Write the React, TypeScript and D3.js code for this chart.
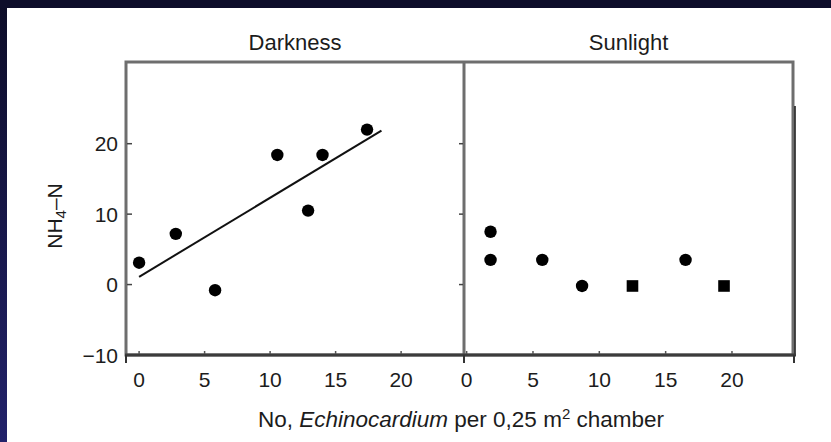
import React from "react";
import * as d3 from "d3";

// ---- data ----
const panelTitles = ["Darkness", "Sunlight"];
const xTicks = [0, 5, 10, 15, 20];
const yTicks = [20, 10, 0, -10];

const darkX = [0, 2.8, 5.8, 10.55, 12.9, 14.0, 17.4];
const darkY = [3.1, 7.2, -0.8, 18.4, 10.5, 18.4, 22.0];

const fitX = [0, 18.5];
const fitY = [1.1, 21.85];

const sunCircleX = [1.8, 1.8, 5.7, 8.7, 16.5];
const sunCircleY = [7.5, 3.5, 3.5, -0.2, 3.5];
const sunSquareX = [12.5, 19.4];
const sunSquareY = [-0.2, -0.2];

const W = 831;
const H = 442;
const FONT = "'Liberation Sans', Arial, Helvetica, sans-serif";

export default function App() {
  const top = 62;
  const bottom = 355;
  const left = 126;
  const mid = 464;
  const right = 793;

  const y = d3.scaleLinear().domain([-10, 31.6]).range([bottom, top]);
  const xL = d3.scaleLinear().domain([-1.0, 24.8]).range([left, mid]);
  const xR = d3.scaleLinear().domain([-0.2, 24.6]).range([mid, right]);

  const fitLine = d3
    .line<number>()
    .x((_, i) => xL(fitX[i]))
    .y((d) => y(d));

  const frame = "#6e6e6e";
  const textCol = "#1c1c1c";

  return (
    <svg
      width={W}
      height={H}
      style={{ position: "absolute", left: 0, top: 0, display: "block" }}
    >
      <defs>
        <linearGradient id="bg" x1="0" y1="0" x2="0" y2="1">
          <stop offset="0" stopColor="#0c0c27" />
          <stop offset="1" stopColor="#22226a" />
        </linearGradient>
      </defs>
      <rect x={0} y={0} width={W} height={H} fill="url(#bg)" />
      <rect x={0} y={0} width={W} height={8} fill="#0d0d2a" />
      <rect x={7} y={8} width={W - 7} height={H - 8} fill="#ffffff" />

      {/* titles */}
      {panelTitles.map((t, i) => (
        <text
          key={t}
          x={i === 0 ? (left + mid) / 2 : (mid + right) / 2}
          y={50}
          textAnchor="middle"
          fontFamily={FONT}
          fontSize={22}
          fill={textCol}
        >
          {t}
        </text>
      ))}

      {/* frame */}
      <rect
        x={left}
        y={top}
        width={right - left}
        height={bottom - top}
        fill="none"
        stroke={frame}
        strokeWidth={3}
      />
      <line x1={mid} x2={mid} y1={top} y2={bottom} stroke={frame} strokeWidth={3} />
      <line x1={right + 2} x2={right + 2} y1={106} y2={bottom} stroke="#111" strokeWidth={1.5} />
      <line x1={left - 1} x2={right + 3} y1={bottom} y2={bottom} stroke="#3c3c3c" strokeWidth={3} />

      {/* outward ticks at panel edges */}
      {[left, mid, right + 1].map((px, i) => (
        <line key={i} x1={px} x2={px} y1={bottom} y2={bottom + 8} stroke="#333" strokeWidth={2} />
      ))}

      {/* y ticks & labels */}
      {yTicks.map((v) => (
        <g key={v}>
          {v > -10 && (
            <>
              <line x1={left + 1} x2={left + 6} y1={y(v)} y2={y(v)} stroke="#444" strokeWidth={1.5} />
              <line x1={mid - 5} x2={mid - 1} y1={y(v)} y2={y(v)} stroke="#444" strokeWidth={1.5} />
            </>
          )}
          <text
            x={118}
            y={y(v)}
            dy="0.36em"
            textAnchor="end"
            fontFamily={FONT}
            fontSize={21}
            fill={textCol}
          >
            {v < 0 ? "\u2212" + Math.abs(v) : v}
          </text>
        </g>
      ))}

      {/* x ticks & labels for both panels */}
      {[xL, xR].map((sx, p) =>
        xTicks.map((v) => (
          <g key={p + "-" + v}>
            <line x1={sx(v)} x2={sx(v)} y1={bottom - 4} y2={bottom - 1} stroke="#555" strokeWidth={1.5} />
            <text
              x={sx(v)}
              y={387}
              textAnchor="middle"
              fontFamily={FONT}
              fontSize={21}
              fill={textCol}
            >
              {v}
            </text>
          </g>
        ))
      )}

      {/* axis titles */}
      <text
        transform="translate(62,216) rotate(-90)"
        textAnchor="middle"
        fontFamily={FONT}
        fontSize={21}
        fill={textCol}
      >
        NH
        <tspan dy={4} fontSize={15}>4</tspan>
        <tspan dy={-4}>{"\u2013N"}</tspan>
      </text>
      <text
        x={461}
        y={427}
        textAnchor="middle"
        fontFamily={FONT}
        fontSize={22.5}
        fill={textCol}
      >
        {"No, "}
        <tspan fontStyle="italic">Echinocardium</tspan>
        {" per 0,25 m"}
        <tspan dy={-8} fontSize={15}>2</tspan>
        <tspan dy={8}>{" chamber"}</tspan>
      </text>

      {/* regression line */}
      <path d={fitLine(fitY) || ""} fill="none" stroke="#111" strokeWidth={2} />

      {/* darkness points */}
      {darkX.map((v, i) => (
        <circle key={"d" + i} cx={xL(v)} cy={y(darkY[i])} r={6.2} fill="#000" />
      ))}

      {/* sunlight points */}
      {sunCircleX.map((v, i) => (
        <circle key={"s" + i} cx={xR(v)} cy={y(sunCircleY[i])} r={6.2} fill="#000" />
      ))}
      {sunSquareX.map((v, i) => (
        <rect
          key={"q" + i}
          x={xR(v) - 5.8}
          y={y(sunSquareY[i]) - 5.8}
          width={11.6}
          height={11.6}
          fill="#000"
        />
      ))}
    </svg>
  );
}
